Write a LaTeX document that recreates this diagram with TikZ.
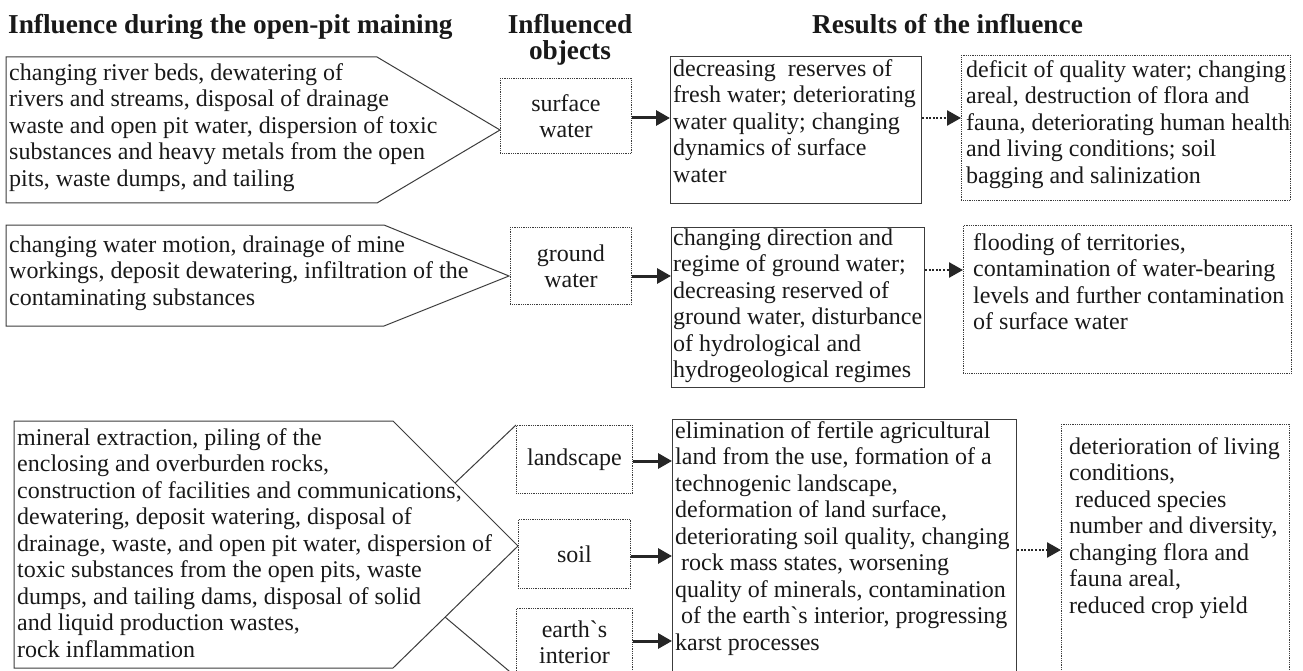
\documentclass[tikz,border=0pt]{standalone}
\usepackage{fontspec}
\setmainfont{Liberation Serif}
\usetikzlibrary{arrows.meta}
\definecolor{lc}{RGB}{60,60,60}
\definecolor{tc}{RGB}{25,25,25}
\newcommand\fls{\rule{0pt}{18pt}}
\newcommand\hls{\rule{0pt}{20pt}}
\begin{document}
\begin{tikzpicture}[x=1pt,y=-1pt,
  body/.style={font=\fontsize{24pt}{26.5pt}\selectfont, text=tc, inner sep=0pt, anchor=north west, align=left},
  head/.style={font=\bfseries\fontsize{27.3pt}{26.5pt}\selectfont, text=tc, inner sep=0pt},
  solidbox/.style={draw=lc, line width=1pt, anchor=north west, inner sep=0pt},
  dotbox/.style={draw=lc, line width=0.9pt, dash pattern=on 0.9pt off 0.9pt, anchor=north west, inner sep=0pt},
  objbox/.style={dotbox, align=center, font=\fontsize{24pt}{26pt}\selectfont, text=tc},
  pent/.style={draw=lc, line width=1pt, line join=miter},
  solidarrow/.style={draw=black!85, line width=3pt, -{Triangle[length=14pt,width=15pt]}},
  dotarrow/.style={draw=black!85, line width=2.6pt, dash pattern=on 2pt off 1.6pt, -{Triangle[length=14pt,width=15pt]}},
]
\fill[white] (0,0) rectangle (1303,671);
\useasboundingbox (0,0) rectangle (1303,671);
\clip (0,0) rectangle (1303,671);

% headers (positions: first baseline minus strut height)
\node[head, anchor=north west] (h1) at (8,13) {\hls Influence during the open-pit maining};
\node[head, anchor=north, align=center] (h2) at (570,13) {\hls Influenced\\objects};
\node[head, anchor=north west] (h3) at (812,13) {\hls Results of the influence};

% influence shapes
\draw[pent] (6,57) -- (377,57) -- (500,130) -- (377,203) -- (6,203) -- cycle;
\draw[pent] (6,225) -- (384,225) -- (509,276) -- (384,326) -- (6,326) -- cycle;
\draw[pent] (14,421) -- (393,421) -- (518,546) -- (393,668) -- (14,668) -- cycle;

\node[body] (t1) at (9,62) {\fls changing river beds, dewatering of\\rivers and streams, disposal of drainage\\waste and open pit water, dispersion of toxic\\substances and heavy metals from the open\\pits, waste dumps, and tailing};
\node[body] (t2) at (9,234) {\fls changing water motion, drainage of mine\\workings, deposit dewatering, infiltration of the\\contaminating substances};
\node[body] (t3) at (17,427) {\fls mineral extraction, piling of the\\enclosing and overburden rocks,\\construction of facilities and communications,\\dewatering, deposit watering, disposal of\\drainage, waste, and open pit water, dispersion of\\toxic substances from the open pits, waste\\dumps, and tailing dams, disposal of solid\\and liquid production wastes,\\rock inflammation};

% influenced objects
\node[objbox, minimum width=131pt, minimum height=75pt] (sw) at (500,78) {surface\\water};
\node[objbox, minimum width=121pt, minimum height=77pt] (gw) at (510,227) {ground\\water};
\node[objbox, minimum width=116pt, minimum height=68pt] (land) at (516,425) {landscape};
\node[objbox, minimum width=112pt, minimum height=69pt] (soil) at (518,519) {soil};
\node[objbox, minimum width=116pt, minimum height=68pt] (earth) at (516,608) {earth\textasciigrave s\\interior};

\coordinate (u3) at (455,483);
\coordinate (l3) at (445,617);
\draw[pent] (u3) -- (land.north west);
\draw[pent] (l3) -- (earth.south west);

% results
\node[solidbox, minimum width=251pt, minimum height=147pt] (r1) at (670,56) {};
\node[body] (r1t) at (673,58) {\fls decreasing~ reserves of\\fresh water; deteriorating\\water quality; changing\\dynamics of surface\\water};
\node[solidbox, minimum width=253pt, minimum height=160pt] (r2) at (671,227) {};
\node[body] (r2t) at (673,227) {\fls changing direction and\\regime of ground water;\\decreasing reserved of\\ground water, disturbance\\of hydrological and\\hydrogeological regimes};
\node[solidbox, minimum width=344pt, minimum height=271pt] (r3) at (672,419) {};
\node[body] (r3t) at (675,420) {\fls elimination of fertile agricultural\\land from the use, formation of a\\technogenic landscape,\\deformation of land surface,\\deteriorating soil quality, changing\\\hspace*{6pt}rock mass states, worsening\\quality of minerals, contamination\\\hspace*{6pt}of the earth\textasciigrave s interior, progressing\\karst processes};

% further results
\node[dotbox, minimum width=329pt, minimum height=145pt] (d1) at (961,55) {};
\node[body] (d1t) at (966,59) {\fls deficit of quality water; changing\\areal, destruction of flora and\\fauna, deteriorating human health\\and living conditions; soil\\bagging and salinization};
\node[dotbox, minimum width=328pt, minimum height=148pt] (d2) at (963,225) {};
\node[body] (d2t) at (973,232) {\fls flooding of territories,\\contamination of water-bearing\\levels and further contamination\\of surface water};
\node[dotbox, minimum width=228pt, minimum height=266pt] (d3) at (1061,424) {};
\node[body] (d3t) at (1069,436) {\fls deterioration of living\\conditions,\\\hspace*{6pt}reduced species\\number and diversity,\\changing flora and\\fauna areal,\\reduced crop yield};

% connectors
\coordinate (y1) at (0,118);
\coordinate (y2) at (0,276);
\coordinate (y2d) at (0,270);
\coordinate (y3a) at (0,461);
\coordinate (y3b) at (0,556);
\coordinate (y3c) at (0,641);
\coordinate (y3d) at (0,550);
\draw[solidarrow] (sw.east |- y1) -- (r1.west |- y1);
\draw[dotarrow] (r1.east |- y1) -- (d1.west |- y1);
\draw[solidarrow] (gw.east |- y2) -- (r2.west |- y2);
\draw[dotarrow] (r2.east |- y2d) -- (d2.west |- y2d);
\draw[solidarrow] (land.east |- y3a) -- (r3.west |- y3a);
\draw[solidarrow] (soil.east |- y3b) -- (r3.west |- y3b);
\draw[solidarrow] (earth.east |- y3c) -- (r3.west |- y3c);
\draw[dotarrow] (r3.east |- y3d) -- (d3.west |- y3d);
\end{tikzpicture}
\end{document}
